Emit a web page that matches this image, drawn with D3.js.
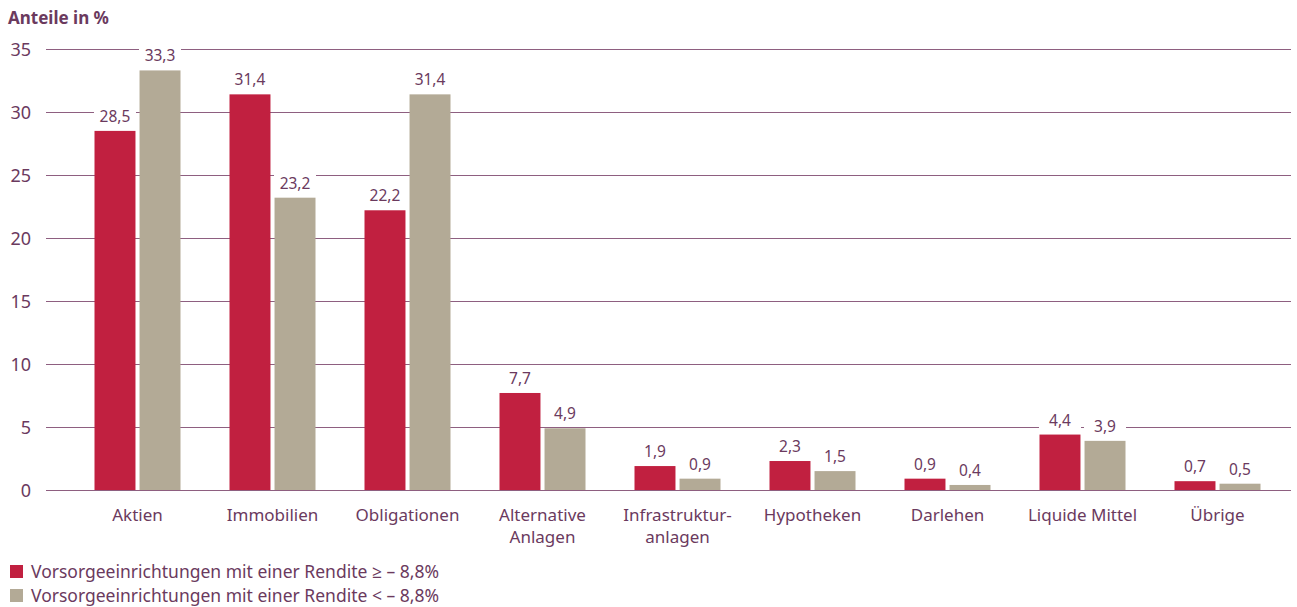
<!DOCTYPE html>
<html lang="de">
<head>
<meta charset="UTF-8">
<title>Anteile in %</title>
<script src="https://cdn.jsdelivr.net/npm/d3@7/dist/d3.min.js"></script>
<style>
  body { margin: 0; background: #fff; }
  text { font-family: "Noto Sans", "Open Sans", sans-serif; fill: #6b3a5e; }
</style>
</head>
<body>
<div id="chart"></div>
<script>
// Daten
var categories = [["Aktien"], ["Immobilien"], ["Obligationen"], ["Alternative", "Anlagen"],
  ["Infrastruktur-", "anlagen"], ["Hypotheken"], ["Darlehen"], ["Liquide Mittel"], ["Übrige"]];
var seriesHigh = [28.5, 31.4, 22.2, 7.7, 1.9, 2.3, 0.9, 4.4, 0.7];
var seriesLow  = [33.3, 23.2, 31.4, 4.9, 0.9, 1.5, 0.4, 3.9, 0.5];
var seriesNames = ["Vorsorgeeinrichtungen mit einer Rendite \u2265 \u2013 8,8%",
                   "Vorsorgeeinrichtungen mit einer Rendite < \u2013 8,8%"];
var yTicks = [0, 5, 10, 15, 20, 25, 30, 35];

var colors = ["#c12040", "#b3aa96"];
var W = 1297, H = 607;

var svg = d3.select("#chart").append("svg")
  .attr("width", W).attr("height", H);

var x = d3.scaleBand()
  .domain(d3.range(categories.length))
  .range([70, 1285]);

var xs = d3.scaleBand()
  .domain([0, 1])
  .range([0, 86])
  .paddingInner(0.09);

var y = d3.scaleLinear().domain([0, 35]).range([490, 49]);

// Titel
svg.append("text").attr("x", 8).attr("y", 24)
  .style("font-size", "17px").style("font-weight", "bold")
  .text("Anteile in %");

// Achse links
var yAxis = d3.axisLeft(y).tickValues(yTicks).tickSize(0).tickPadding(0);
var gy = svg.append("g").attr("transform", "translate(31,0)").call(yAxis);
gy.select(".domain").remove();
gy.selectAll("text").style("font-size", "18px").attr("dy", "0.35em").attr("x", 0);

// Gitterlinien
svg.append("g").selectAll("line").data(yTicks).enter().append("line")
  .attr("x1", 46).attr("x2", 1291)
  .attr("y1", function(d){ return y(d) + 0.5; })
  .attr("y2", function(d){ return y(d) + 0.5; })
  .attr("stroke", "#8e5f80").attr("stroke-width", 1.2);

// Balken
var series = [seriesHigh, seriesLow];
var groups = svg.append("g").selectAll("g").data(categories).enter().append("g")
  .attr("transform", function(d, i){ return "translate(" + (x(i) + (x.bandwidth() - 86) / 2) + ",0)"; });

groups.selectAll("rect").data(function(d, i){ return [0, 1].map(function(s){ return {s: s, v: series[s][i]}; }); })
  .enter().append("rect")
  .attr("x", function(d){ return xs(d.s); })
  .attr("width", xs.bandwidth())
  .attr("y", function(d){ return y(d.v); })
  .attr("height", function(d){ return y(0) - y(d.v); })
  .attr("fill", function(d){ return colors[d.s]; });

// Wertbeschriftungen mit weissem Hintergrund
var fmt = function(v){ return d3.format(".1f")(v).replace(".", ","); };
var labels = groups.selectAll("g.lab").data(function(d, i){ return [0, 1].map(function(s){ return {s: s, v: series[s][i]}; }); })
  .enter().append("g").attr("class", "lab");
labels.append("rect")
  .attr("x", function(d){ return xs(d.s) + xs.bandwidth() / 2 - 21; })
  .attr("y", function(d){ return y(d.v) - 28; })
  .attr("width", 42).attr("height", 23)
  .attr("fill", "#fff");
labels.append("text")
  .attr("x", function(d){ return xs(d.s) + xs.bandwidth() / 2; })
  .attr("y", function(d){ return y(d.v) - 9; })
  .attr("text-anchor", "middle")
  .style("font-size", "15.5px")
  .text(function(d){ return fmt(d.v); });

// Kategorienbeschriftungen
var cat = svg.append("g").selectAll("text").data(categories).enter().append("text")
  .attr("x", function(d, i){ return x(i) + x.bandwidth() / 2; })
  .attr("y", 521)
  .attr("text-anchor", "middle")
  .style("font-size", "17px");
cat.selectAll("tspan").data(function(d){ return d; }).enter().append("tspan")
  .attr("x", function(){ return this.parentNode.getAttribute("x"); })
  .attr("dy", function(d, j){ return j === 0 ? 0 : 22; })
  .text(function(d){ return d; });

// Legende
var leg = svg.append("g").selectAll("g").data(seriesNames).enter().append("g")
  .attr("transform", function(d, i){ return "translate(10," + (565 + i * 24) + ")"; });
leg.append("rect").attr("width", 13).attr("height", 13)
  .attr("fill", function(d, i){ return colors[i]; });
leg.append("text").attr("x", 21).attr("y", 13)
  .style("font-size", "17.5px")
  .text(function(d){ return d; });
</script>
</body>
</html>
